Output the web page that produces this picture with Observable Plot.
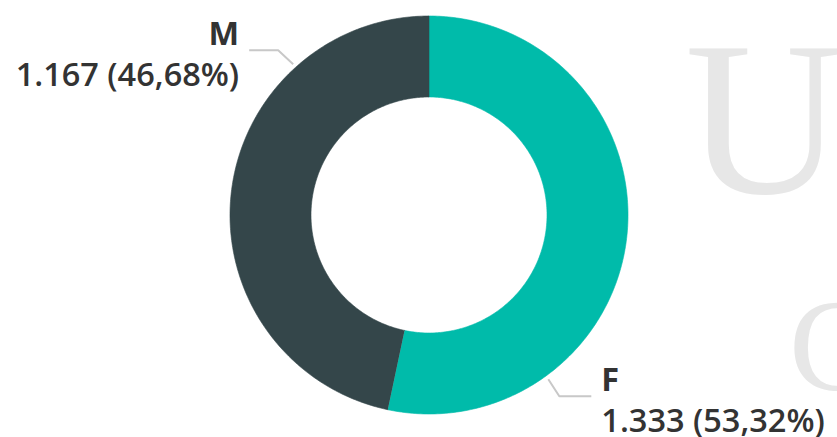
<!DOCTYPE html>
<html>
<head>
<meta charset="utf-8">
<script src="https://cdn.jsdelivr.net/npm/d3@7"></script>
<script src="https://cdn.jsdelivr.net/npm/@observablehq/plot@0.6"></script>
<style>
  html, body { margin: 0; padding: 0; background: #fff; }
  #wrap { position: relative; width: 837px; height: 437px; overflow: hidden; }
  .wm { position: absolute; font-family: "Liberation Serif", "DejaVu Serif", serif; color: #e7e7e7; line-height: 1; white-space: nowrap; }
  #chart { position: absolute; left: 0; top: 0; }
</style>
</head>
<body>
<div id="wrap">
  <div class="wm" id="wmU" style="left:685px; top:0px; font-size:220px;">U</div>
  <div class="wm" id="wmC" style="left:789px; top:0px; font-size:132px;">C</div>
  <div id="chart"></div>
</div>
<script>
// ---- data ----
const genders = ["F", "M"];
const counts = [1333, 1167];
const colors = ["#00BBAA", "#34464A"];
// label leader anchor angles (degrees clockwise from 12 o'clock), as placed in the reference
const labelAngles = [144, 318];

// ---- layout ----
const W = 837, H = 437;
const cx = 428.5, cy = 214.5, R = 199, r0 = 118;

// position watermark letters by baseline
function placeWm(id, baseline) {
  const el = document.getElementById(id);
  const fs = parseFloat(el.style.fontSize);
  el.style.top = (baseline - fs * 0.838) + "px"; // baseline offset in a line-height:1 box
}
placeWm("wmU", 193);
placeWm("wmC", 391);

const loc = d3.formatLocale({decimal: ",", thousands: ".", grouping: [3], currency: ["", ""]});
const fmtN = loc.format(",d");
const fmtP = loc.format(".2%");
const total = d3.sum(counts);

const data = genders.map((g, i) => ({gender: g, value: counts[i], color: colors[i], labelAngle: labelAngles[i]}));
const arcs = d3.pie().sort(null).value(d => d.value).startAngle(0).endAngle(2 * Math.PI)(data);

const polar = (a, rad) => [rad * Math.sin(a), -rad * Math.cos(a)];

// slice polygons
const polys = arcs.map(a => {
  const n = 240;
  const pts = [];
  for (let k = 0; k <= n; k++) {
    const t = a.startAngle + (a.endAngle - a.startAngle) * k / n;
    const [x, y] = polar(t, R);
    pts.push({x, y, gender: a.data.gender});
  }
  for (let k = n; k >= 0; k--) {
    const t = a.startAngle + (a.endAngle - a.startAngle) * k / n;
    const [x, y] = polar(t, r0);
    pts.push({x, y, gender: a.data.gender});
  }
  return {gender: a.data.gender, color: a.data.color, pts};
});

// leader lines and labels
const leaders = [];
const labels = [];
arcs.forEach(a => {
  const d = a.data;
  const th = d.labelAngle * Math.PI / 180;
  const [x0, y0] = polar(th, R * 1.02);
  const right = Math.sin(th) > 0;
  const x1 = x0 + (right ? 11 : -15), y1 = y0 + (right ? 17 : -14);
  const x2 = x1 + (right ? 32 : -29), y2 = y1;
  leaders.push({x: x0, y: y0, g: d.gender}, {x: x1, y: y1, g: d.gender}, {x: x2, y: y2, g: d.gender});
  const tx = x2 + (right ? 10 : -10);
  const anchor = right ? "start" : "end";
  labels.push({x: tx, y: y2 - 5, text: d.gender, anchor, weight: 700});
  labels.push({x: tx, y: y2 + 36, text: `${fmtN(d.value)} (${fmtP(d.value / total)})`, anchor, weight: 600});
});

const plot = Plot.plot({
  width: W,
  height: H,
  margin: 0,
  style: {background: "transparent", overflow: "visible"},
  x: {domain: [-cx, W - cx], range: [0, W], axis: null},
  y: {domain: [-cy, H - cy], range: [0, H], axis: null},
  marks: [
    ...polys.map(p => Plot.line(p.pts, {x: "x", y: "y", fill: p.color, stroke: p.color, strokeWidth: 0.6, curve: "linear"})),
    Plot.line(leaders, {x: "x", y: "y", z: "g", stroke: "#c8c8c8", strokeWidth: 2, strokeLinejoin: "miter", strokeLinecap: "butt"}),
    ...["start", "end"].flatMap(anc => [700, 600].map(w =>
      Plot.text(labels.filter(l => l.anchor === anc && l.weight === w), {
        x: "x", y: "y", text: "text", textAnchor: anc, lineAnchor: "bottom",
        fontSize: 32.5, fontWeight: w, fill: "#333333", fontFamily: "'Open Sans', 'Noto Sans', sans-serif"
      })
    ))
  ]
});
document.getElementById("chart").appendChild(plot);
</script>
</body>
</html>
